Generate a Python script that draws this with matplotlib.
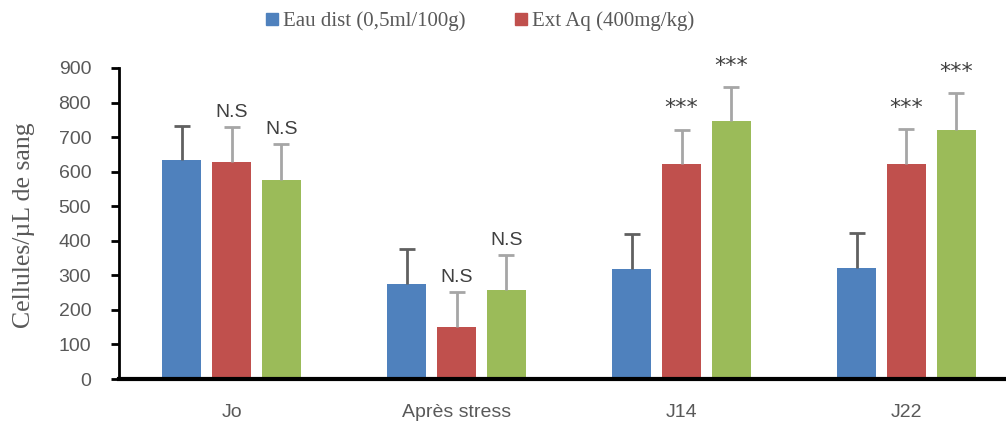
import matplotlib.pyplot as plt
from matplotlib.lines import Line2D
import numpy as np

categories = ["Jo", "Après stress", "J14", "J22"]
series_names = ["Eau dist (0,5ml/100g)", "Ext Aq (400mg/kg)", "Ext Aq"]
colors = ["#4F81BD", "#C0504D", "#9BBB59"]

eau = [634, 274, 318, 320]
ext_400 = [629, 151, 621, 622]
ext_3 = [576, 258, 746, 722]

eau_sd = [99, 101, 101, 102]
ext_400_sd = [101, 102, 101, 101]
ext_3_sd = [104, 101, 100, 105]

# significance marks above red and green bars
marks_400 = ["N.S", "N.S", "***", "***"]
marks_3 = ["N.S", "N.S", "***", "***"]

values = [eau, ext_400, ext_3]
sds = [eau_sd, ext_400_sd, ext_3_sd]
marks = [None, marks_400, marks_3]

fig = plt.figure(figsize=(10.06, 4.21), dpi=100)
ax = fig.add_axes([119 / 1006, 42 / 421, 900 / 1006, 311 / 421])

x = np.arange(len(categories))
offset = 0.222
width = 0.173
tick_col = "#595959"

for i, (vals, sd, col) in enumerate(zip(values, sds, colors)):
    pos = x + (i - 1) * offset
    ax.bar(pos, vals, width, color=col, zorder=2)
    bar_col = "#606060" if i == 0 else "#a6a6a6"
    _, caps, bars = ax.errorbar(pos, vals, yerr=[np.zeros(len(sd)), sd], fmt="none",
                                ecolor=bar_col, elinewidth=2, capsize=6, capthick=2, zorder=3)
    caps[0].set_visible(False)
    caps[1].set_color("#606060")
    if marks[i] is not None:
        for p, v, s, m in zip(pos, vals, sd, marks[i]):
            if m == "***":
                ax.annotate(m, (p, v + s), xytext=(0, 8), textcoords="offset points",
                            ha="center", va="bottom", fontsize=16, color="#404040",
                            family="DejaVu Sans")
            else:
                ax.annotate(m, (p, v + s), xytext=(0, 4), textcoords="offset points",
                            ha="center", va="bottom", fontsize=14, color="#404040",
                            family="Liberation Sans")

ax.set_xlim(-0.5, 3.5)
ax.set_ylim(0, 900)
ax.set_yticks(np.arange(0, 901, 100))
ax.set_xticks(x)
ax.set_xticklabels(categories)
for lab in ax.get_xticklabels() + ax.get_yticklabels():
    lab.set_family("Liberation Sans")
    lab.set_fontsize(14)
    lab.set_color(tick_col)

ax.tick_params(axis="x", length=0, pad=18)
ax.tick_params(axis="y", direction="out", length=6, width=2, color="black", pad=14)
for side in ["top", "right"]:
    ax.spines[side].set_visible(False)
ax.spines["left"].set_linewidth(2)
ax.spines["bottom"].set_linewidth(3)

fig.text(24 / 1006, 1 - 225 / 421, "Cellules/µL de sang", rotation=90, ha="center", va="center",
         fontsize=18.5, family="Liberation Serif", color=tick_col)

handles = [Line2D([], [], marker="s", linestyle="none", markersize=8, color=c) for c in colors[:2]]
fig.legend(handles, series_names[:2], loc="center", bbox_to_anchor=(480 / 1006, 1 - 21 / 421),
           ncol=2, frameon=False, handlelength=0.6, handletextpad=0.2, columnspacing=2.4,
           prop={"family": "Liberation Serif", "size": 15}, labelcolor=tick_col)

fig.savefig("out.png", dpi=100)
